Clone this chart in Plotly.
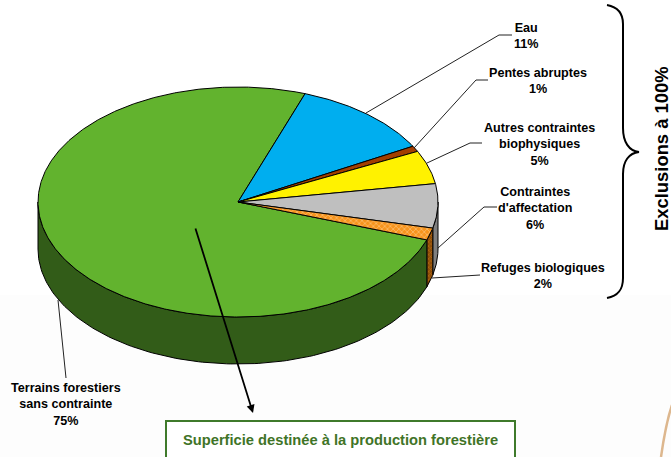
import numpy as np
import plotly.graph_objects as go

# Data
categories = ["Terrains forestiers<br>sans contrainte", "Eau", "Pentes abruptes",
              "Autres contraintes<br>biophysiques", "Contraintes<br>d'affectation", "Refuges biologiques"]
values = [75.1, 11.5, 0.8, 4.7, 6.2, 1.7]          # measured shares
labels = ["75%", "11%", "1%", "5%", "6%", "2%"]     # printed shares
order = [1, 2, 3, 4, 5, 0]                           # clockwise from the first angle
top_colors = ["#62B32E", "#00AEEF", "#A33F00", "#FFF200", "#BFBFBF", "#F7941D"]
side_colors = ["#325C18", "#0072A0", "#6B2900", "#A8A000", "#7F7F7F", "#A5600F"]
label_pos = [(66, 379), (526, 19), (538, 64), (539, 119), (535, 183), (543, 259)]

CX, CY, RX, RY, DEPTH = 238, 202, 200, 115, 47
START = 19.6


def pt(a, dy=0.0):
    a = np.radians(a)
    return CX + RX * np.sin(a), CY - RY * np.cos(a) + dy


fig = go.Figure()

spans = {}
cur = START
for i in order:
    spans[i] = (cur, cur + values[i] * 3.6)
    cur += values[i] * 3.6

fig.add_shape(type="rect", xref="x", yref="y", x0=0, x1=671, y0=295, y1=457,
              fillcolor="#FDFDFD", line_width=0, layer="below")

# sides (only the front half, 90..270 degrees)
for i in order:
    a0, a1 = spans[i]
    lo, hi = max(a0, 90), min(a1, 270)
    if lo >= hi:
        continue
    aa = np.linspace(lo, hi, 140)
    xt, yt = pt(aa)
    xb, yb = pt(aa, DEPTH)
    xs = np.concatenate([xt, xb[::-1], xt[:1]])
    ys = np.concatenate([yt, yb[::-1], yt[:1]])
    kw = {}
    if i == 5:
        kw["fillpattern"] = dict(shape="x", bgcolor="#8A4B08", fgcolor="#E08A1E", size=3, solidity=0.4)
    fig.add_trace(go.Scatter(x=xs, y=ys, mode="lines", fill="toself", fillcolor=side_colors[i],
                             line=dict(color="#000000", width=1), hoverinfo="skip", showlegend=False, **kw))

# tops
for i in range(6):
    a0, a1 = spans[i]
    aa = np.linspace(a0, a1, max(8, int((a1 - a0) * 2)))
    xt, yt = pt(aa)
    xs = np.concatenate([[CX], xt, [CX]])
    ys = np.concatenate([[CY], yt, [CY]])
    kw = {}
    if i == 5:
        kw["fillpattern"] = dict(shape="x", bgcolor="#F7941D", fgcolor="#FFE3B8", size=4, solidity=0.35)
    fig.add_trace(go.Scatter(x=xs, y=ys, mode="lines", fill="toself", fillcolor=top_colors[i],
                             line=dict(color="#000000", width=1), name=categories[i].replace("<br>", " "),
                             hoverinfo="name", showlegend=False, **kw))

# leader lines
leaders = [
    "M58,300 L66,378",
    "M366,113 L499,35 L512,35",
    "M414,148 L476,80 L488,80",
    "M427,163 L470,143 L482,143",
    "M438,248 L484,207 L497,207",
    "M432,278 L480,275",
]
for p in leaders:
    fig.add_shape(type="path", path=p, xref="x", yref="y", line=dict(color="#222222", width=1))

# brace
fig.add_shape(type="path", xref="x", yref="y", line=dict(color="#000000", width=2),
              path="M607,5 C618,7 623,13 623,24 L623,128 C623,142 629,151 639,152 "
                   "C629,153 623,161 623,174 L623,278 C623,290 618,296 607,298")

# labels
for i, (x, y) in enumerate(label_pos):
    txt = "<br>".join(f"<b>{s}</b>" for s in (categories[i].split("<br>") + [labels[i]]))
    fig.add_annotation(x=x, y=y, xref="x", yref="y", text=txt,
                       showarrow=False, xanchor="center", yanchor="top", align="center",
                       font=dict(family="Liberation Sans", size=12.6, color="#000000"))

fig.add_annotation(x=661, y=149, xref="x", yref="y", text="<b>Exclusions à 100%</b>", textangle=-90,
                   showarrow=False, font=dict(family="Liberation Sans", size=18.4, color="#000000"))

# arrow
fig.add_annotation(x=253, y=413, ax=195, ay=227, xref="x", yref="y", axref="x", ayref="y", text="",
                   showarrow=True, arrowhead=2, arrowsize=0.9, arrowwidth=1.8, arrowcolor="#000000")

# box
fig.add_shape(type="rect", xref="x", yref="y", x0=166, x1=515, y0=421, y1=458,
              line=dict(color="#3F7A2B", width=2), fillcolor="#FFFFFF")
fig.add_annotation(x=340, y=440, xref="x", yref="y", text="<b>Superficie destinée à la production forestière</b>",
                   showarrow=False, font=dict(family="Liberation Sans", size=14.7, color="#3F7427"))

# corner stroke
fig.add_shape(type="path", xref="x", yref="y", line=dict(color="#DDB78E", width=2.5),
              path="M672,405 C667,420 664,436 661,457")

fig.update_layout(
    width=671, height=457, margin=dict(l=0, r=0, t=0, b=0), autosize=False,
    paper_bgcolor="#FFFFFF", plot_bgcolor="#FFFFFF", showlegend=False,
    xaxis=dict(range=[0, 671], visible=False, fixedrange=True),
    yaxis=dict(range=[457, 0], visible=False, fixedrange=True),
)
fig.write_html("out.html", config={"displayModeBar": False},
               post_script="document.body.style.margin='0';document.body.style.overflow='hidden';")
